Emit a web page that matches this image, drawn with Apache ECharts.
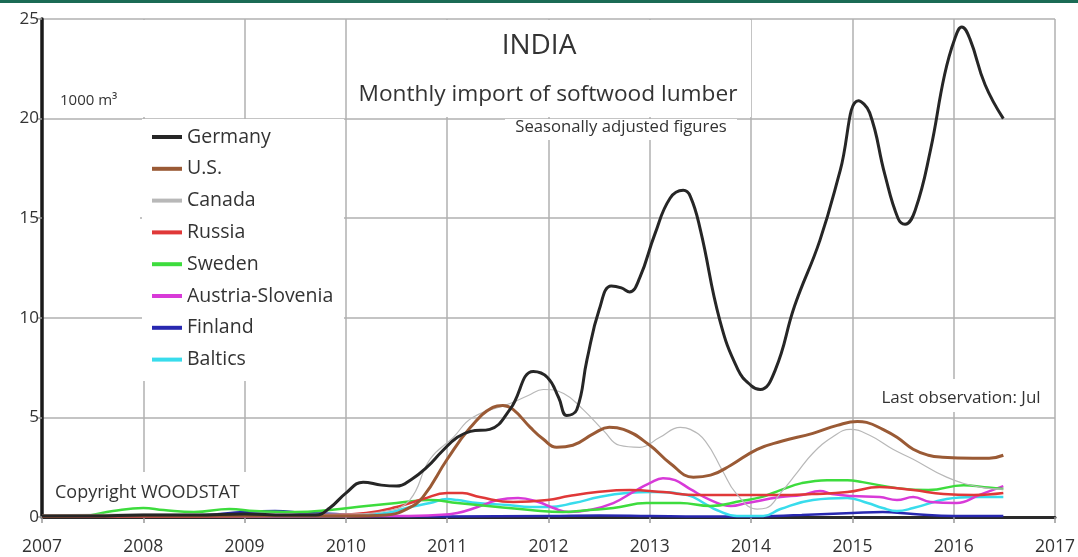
<!DOCTYPE html>
<html>
<head>
<meta charset="utf-8">
<script src="https://cdn.jsdelivr.net/npm/echarts@6/dist/echarts.min.js"></script>
<style>
html,body{margin:0;padding:0;background:#fff;}
#chart{width:1078px;height:557px;}
</style>
</head>
<body>
<div id="chart"></div>
<script>
// ---- data (year, 1000 m3) ----
var seriesNames = ['Germany','U.S.','Canada','Russia','Sweden','Austria-Slovenia','Finland','Baltics'];
var yearTicks = [2007,2008,2009,2010,2011,2012,2013,2014,2015,2016,2017];
var valueTicks = [0,5,10,15,20,25];

var germany = [[2007.0,0.05],[2007.5,0.05],[2008.0,0.1],[2008.5,0.1],[2009.0,0.15],[2009.4,0.1],[2009.7,0.1],[2009.84,0.45],[2010.0,1.2],[2010.17,1.75],[2010.35,1.6],[2010.5,1.55],[2010.65,1.9],[2010.8,2.5],[2010.95,3.3],[2011.1,4.0],[2011.23,4.3],[2011.42,4.4],[2011.62,5.4],[2011.85,7.3],[2011.99,7.0],[2012.1,6.0],[2012.18,5.1],[2012.28,5.4],[2012.38,7.9],[2012.5,10.4],[2012.62,11.6],[2012.72,11.5],[2012.8,11.3],[2012.9,12.0],[2013.05,14.2],[2013.2,16.0],[2013.33,16.4],[2013.4,16.1],[2013.5,14.4],[2013.69,9.9],[2013.87,7.4],[2014.0,6.6],[2014.09,6.4],[2014.24,7.4],[2014.43,10.6],[2014.68,13.9],[2014.88,17.4],[2015.06,20.9],[2015.17,20.3],[2015.32,17.2],[2015.45,15.0],[2015.52,14.7],[2015.62,15.4],[2015.77,18.4],[2015.91,22.2],[2016.01,24.0],[2016.08,24.6],[2016.16,24.0],[2016.31,21.7],[2016.49,20.0]];
var us = [[2007,0.05],[2008,0.05],[2009,0.05],[2010,0.05],[2010.4,0.1],[2010.6,0.4],[2010.76,1.0],[2011.0,2.9],[2011.23,4.5],[2011.45,5.5],[2011.55,5.6],[2011.65,5.4],[2011.82,4.5],[2011.95,3.9],[2012.08,3.5],[2012.24,3.6],[2012.45,4.2],[2012.6,4.5],[2012.74,4.4],[2013.0,3.6],[2013.2,2.7],[2013.43,2.0],[2013.6,2.1],[2013.8,2.6],[2014.06,3.4],[2014.3,3.8],[2014.61,4.2],[2014.85,4.6],[2015.05,4.8],[2015.14,4.75],[2015.3,4.4],[2015.44,4.0],[2015.6,3.4],[2015.75,3.1],[2015.89,3.0],[2016.19,2.95],[2016.35,2.95],[2016.49,3.1]];
var canada = [[2007,0.1],[2008,0.15],[2009,0.15],[2010,0.15],[2010.4,0.3],[2010.63,0.85],[2010.83,2.9],[2011.06,4.0],[2011.25,5.0],[2011.62,5.7],[2011.8,6.1],[2011.95,6.4],[2012.15,6.2],[2012.34,5.4],[2012.55,4.3],[2012.7,3.6],[2012.9,3.5],[2013.1,4.0],[2013.3,4.5],[2013.4,4.4],[2013.55,3.8],[2013.72,2.3],[2013.85,1.2],[2014.06,0.4],[2014.15,0.45],[2014.29,1.2],[2014.45,2.2],[2014.61,3.2],[2014.8,4.0],[2014.98,4.4],[2015.17,4.1],[2015.4,3.4],[2015.6,2.9],[2015.93,2.0],[2016.26,1.5],[2016.49,1.4]];
var russia = [[2007,0.02],[2008,0.02],[2009,0.05],[2009.8,0.1],[2010.2,0.2],[2010.5,0.5],[2010.76,0.9],[2011.0,1.2],[2011.15,1.2],[2011.32,1.0],[2011.65,0.75],[2011.99,0.85],[2012.2,1.05],[2012.48,1.25],[2012.8,1.35],[2013.13,1.25],[2013.46,1.1],[2013.99,1.1],[2014.29,1.1],[2014.6,1.15],[2014.95,1.25],[2015.27,1.5],[2015.6,1.35],[2015.9,1.15],[2016.2,1.1],[2016.49,1.2]];
var sweden = [[2007,0.02],[2007.4,0.05],[2007.7,0.3],[2008.0,0.45],[2008.2,0.35],[2008.5,0.25],[2008.85,0.4],[2009.1,0.3],[2009.5,0.25],[2009.84,0.35],[2010.2,0.55],[2010.5,0.7],[2010.83,0.85],[2011.1,0.7],[2011.5,0.5],[2011.82,0.35],[2012.14,0.25],[2012.4,0.35],[2012.64,0.45],[2012.97,0.7],[2013.3,0.7],[2013.6,0.55],[2013.9,0.8],[2014.1,1.0],[2014.29,1.35],[2014.5,1.7],[2014.75,1.85],[2014.95,1.85],[2015.1,1.75],[2015.44,1.45],[2015.75,1.35],[2016.1,1.6],[2016.3,1.5],[2016.49,1.4]];
var austria = [[2007,0.02],[2009,0.03],[2010.5,0.05],[2010.9,0.1],[2011.1,0.2],[2011.3,0.5],[2011.5,0.85],[2011.7,0.95],[2011.9,0.75],[2012.05,0.45],[2012.2,0.25],[2012.4,0.35],[2012.64,0.7],[2012.85,1.3],[2013.0,1.7],[2013.13,1.95],[2013.25,1.85],[2013.4,1.4],[2013.6,0.85],[2013.8,0.55],[2013.96,0.7],[2014.29,1.0],[2014.5,1.1],[2014.68,1.3],[2014.8,1.15],[2015.0,1.05],[2015.27,1.0],[2015.44,0.85],[2015.6,1.0],[2015.77,0.75],[2016.03,0.7],[2016.25,1.1],[2016.49,1.55]];
var finland = [[2007,0.02],[2008,0.02],[2008.6,0.1],[2009.0,0.25],[2009.3,0.3],[2009.6,0.2],[2009.9,0.15],[2010.3,0.05],[2011,0.03],[2012,0.05],[2012.5,0.08],[2013,0.05],[2013.5,0.02],[2014,0.02],[2014.5,0.1],[2015.0,0.2],[2015.3,0.25],[2015.6,0.15],[2016,0.05],[2016.49,0.05]];
var baltics = [[2007,0.02],[2009,0.03],[2010.0,0.05],[2010.4,0.2],[2010.6,0.45],[2010.83,0.7],[2011.0,0.9],[2011.1,0.85],[2011.3,0.7],[2011.6,0.6],[2011.82,0.5],[2012.0,0.5],[2012.25,0.7],[2012.5,1.0],[2012.77,1.2],[2013.03,1.25],[2013.37,1.1],[2013.55,0.65],[2013.66,0.35],[2013.86,0.05],[2014.12,0.05],[2014.29,0.4],[2014.61,0.85],[2014.95,0.95],[2015.15,0.7],[2015.3,0.45],[2015.44,0.3],[2015.6,0.45],[2015.93,0.9],[2016.2,1.0],[2016.49,1.0]];

var seriesData = [germany, us, canada, russia, sweden, austria, finland, baltics];
var seriesColors = ['#262626','#9a5a35','#b8b8b8','#e03838','#3ddc3d','#d83ad8','#2828b0','#38dcec'];
var seriesWidths = [3, 3, 1.2, 2.5, 2.5, 2.5, 2.5, 2.5];
var drawOrder = [6,7,5,4,3,2,1,0];

var FONT = '"Open Sans", sans-serif';
var chart = echarts.init(document.getElementById('chart'));

var series = drawOrder.map(function(i){
  return {
    name: seriesNames[i],
    type: 'line',
    data: seriesData[i],
    smooth: 0.45,
    symbol: 'none',
    z: 2,
    lineStyle: { color: seriesColors[i], width: seriesWidths[i] },
    itemStyle: { color: seriesColors[i] },
    animation: false
  };
});

var legendData = seriesNames.map(function(n, i){
  return { name: n, icon: 'rect', itemStyle: { color: seriesColors[i] } };
});

function whiteBox(x, y, w, h){
  return { type: 'rect', z: 1, shape: { x: x, y: y, width: w, height: h }, style: { fill: '#fff' }, silent: true };
}
function label(text, x, y, size, align){
  return { type: 'text', z: 10, x: x, y: y, style: { text: text, font: size + 'px ' + FONT, fill: '#333', textAlign: align || 'left', textVerticalAlign: 'middle' } };
}

var option = {
  backgroundColor: '#fff',
  animation: false,
  grid: { left: 42, right: 23, top: 19, bottom: 40, containLabel: false },
  xAxis: {
    type: 'value', min: yearTicks[0], max: yearTicks[yearTicks.length-1], interval: 1,
    axisLine: { show: true, onZero: true, lineStyle: { color: '#2a2a2a', width: 3 } },
    axisTick: { show: true, length: 6, lineStyle: { color: '#999', width: 1.5 } },
    axisLabel: { color: '#333', fontSize: 17.5, fontFamily: FONT, margin: 21, formatter: function(v){ return String(Math.round(v)); } },
    splitLine: { show: true, lineStyle: { color: '#b0b0b0', width: 1.5 } }
  },
  yAxis: {
    type: 'value', min: valueTicks[0], max: valueTicks[valueTicks.length-1], interval: 5,
    axisLine: { show: true, lineStyle: { color: '#1a1a1a', width: 3.5 } },
    axisTick: { show: true, length: 5, lineStyle: { color: '#999', width: 1.5 } },
    axisLabel: { color: '#333', fontSize: 17, fontFamily: FONT, margin: 3 },
    splitLine: { show: true, lineStyle: { color: '#b0b0b0', width: 1.5 } }
  },
  legend: {
    data: legendData,
    orient: 'vertical',
    left: 147, top: 122,
    itemWidth: 30, itemHeight: 4, itemGap: 11.8,
    textStyle: { fontSize: 19.5, fontFamily: FONT, color: '#333', lineHeight: 18 },
    selectedMode: false,
    z: 6
  },
  graphic: [
    { type: 'rect', z: 10, shape: { x: 0, y: 0, width: 1078, height: 3 }, style: { fill: '#1b6b55' } },
    whiteBox(44, 20, 188, 97),
    whiteBox(44, 120, 96, 185),
    whiteBox(142, 119, 202, 262),
    whiteBox(347, 20, 404, 97),
    whiteBox(505, 119, 232, 21),
    whiteBox(872, 379, 170, 33),
    whiteBox(48, 472, 200, 42),
    label('INDIA', 539, 46, 28, 'center'),
    label('Monthly import of softwood lumber', 548, 95, 22.7, 'center'),
    label('Seasonally adjusted figures', 621, 127, 16.7, 'center'),
    label('1000 m\u00B3', 60, 101, 15, 'left'),
    label('Last observation: Jul', 961, 398, 17, 'center'),
    label('Copyright WOODSTAT', 55, 493, 18, 'left')
  ],
  series: series
};
chart.setOption(option);
</script>
</body>
</html>
